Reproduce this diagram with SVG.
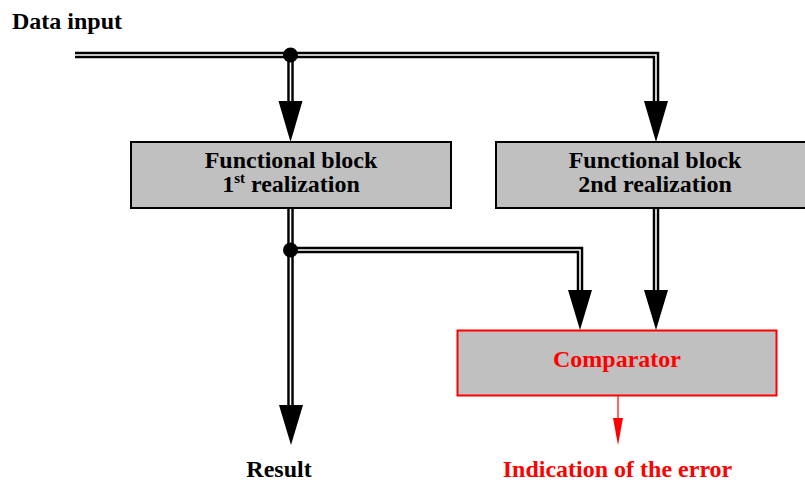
<svg xmlns="http://www.w3.org/2000/svg" width="805" height="482" viewBox="0 0 805 482">
<style>
  text { font-family: "Liberation Serif", "Times New Roman", serif; font-weight: bold; font-size: 24px; }
  .blk { fill: #000; }
  .red { fill: #ff0000; }
  .box { fill: #c0c0c0; stroke: #000; stroke-width: 2; }
  .rbox { fill: #c0c0c0; stroke: #ff0000; stroke-width: 2; }
  .outer { fill: none; stroke: #000; stroke-width: 6.5; stroke-linejoin: miter; }
  .inner { fill: none; stroke: #fff; stroke-width: 1.6; stroke-linejoin: miter; }
  .head { fill: #000; }
</style>
<rect width="805" height="482" fill="#fff"/>
<g id="connectors">
  <path class="outer" d="M75,55 H656 V102"/>
  <path class="outer" d="M290.5,55 V102"/>
  <path class="outer" d="M290.5,208 V407"/>
  <path class="outer" d="M290.5,250 H580 V292"/>
  <path class="outer" d="M656,208 V292"/>
  <path class="inner" d="M75,55 H656 V102"/>
  <path class="inner" d="M290.5,55 V102"/>
  <path class="inner" d="M290.5,208 V407"/>
  <path class="inner" d="M290.5,250 H580 V292"/>
  <path class="inner" d="M656,208 V292"/>
  <polygon class="head" points="278.5,101 302.5,101 290.5,142"/>
  <polygon class="head" points="644,101 668,101 656,142"/>
  <polygon class="head" points="279,405 303,405 291,445"/>
  <polygon class="head" points="568,290 592,290 580,330"/>
  <polygon class="head" points="644,290 668,290 656,330"/>
  <circle class="head" cx="290.5" cy="55" r="7.5"/>
  <circle class="head" cx="290.5" cy="250" r="7.5"/>
  <line x1="618" y1="396" x2="618" y2="419" stroke="#ff0000" stroke-width="1.2"/>
  <polygon fill="#ff0000" points="613,418 623,418 618,445"/>
</g>
<g id="data-input">
  <text x="12" y="29" class="blk">Data input</text>
</g>
<g id="block1">
  <rect class="box" x="131" y="142" width="320" height="66"/>
  <text x="291" y="168" text-anchor="middle" class="blk">Functional block</text>
  <text x="291" y="192" text-anchor="middle" class="blk">1<tspan font-size="15" dy="-9">st</tspan><tspan dy="9"> realization</tspan></text>
</g>
<g id="block2">
  <rect class="box" x="496" y="142" width="320" height="66"/>
  <text x="655" y="168" text-anchor="middle" class="blk">Functional block</text>
  <text x="655" y="192" text-anchor="middle" class="blk">2nd realization</text>
</g>
<g id="comparator">
  <rect class="rbox" x="457.5" y="330.5" width="319" height="65"/>
  <text x="617" y="367" text-anchor="middle" class="red">Comparator</text>
</g>
<g id="result">
  <text x="279" y="477" text-anchor="middle" class="blk">Result</text>
</g>
<g id="error">
  <text x="617.5" y="477" text-anchor="middle" class="red">Indication of the error</text>
</g>
</svg>
